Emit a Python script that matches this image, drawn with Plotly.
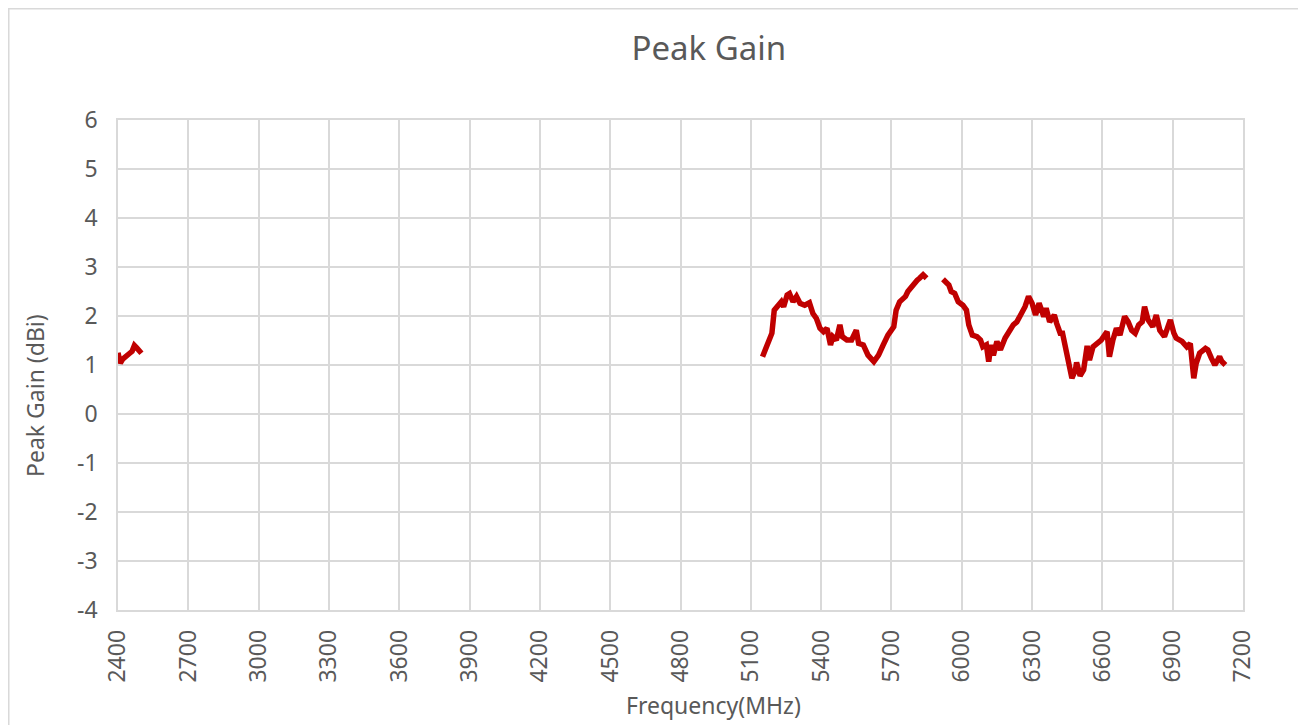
import plotly.graph_objects as go

# ---- data (Frequency in MHz, Peak Gain in dBi) ----
freq_low = [2400, 2405, 2410, 2420, 2430, 2440, 2450, 2460, 2470, 2480, 2490, 2500]
gain_low = [1.25, 1.10, 1.04, 1.12, 1.15, 1.20, 1.24, 1.28, 1.40, 1.35, 1.30, 1.24]

freq_mid = [5150, 5160, 5175, 5190, 5200, 5215, 5230, 5240, 5255, 5265, 5280, 5295,
            5310, 5330, 5350, 5365, 5380, 5395, 5410, 5425, 5440, 5450, 5465, 5480,
            5490, 5510, 5530, 5550, 5560, 5580, 5600, 5625, 5645, 5665, 5685, 5710,
            5720, 5735, 5760, 5770, 5795, 5810, 5820, 5835, 5850]
gain_mid = [1.17, 1.31, 1.51, 1.65, 2.12, 2.22, 2.29, 2.19, 2.43, 2.46, 2.29, 2.40,
            2.26, 2.22, 2.27, 2.05, 1.95, 1.75, 1.68, 1.75, 1.41, 1.58, 1.51, 1.82,
            1.58, 1.51, 1.51, 1.71, 1.44, 1.41, 1.20, 1.07, 1.20, 1.41, 1.61, 1.78,
            2.12, 2.29, 2.40, 2.50, 2.67, 2.73, 2.77, 2.84, 2.77]

freq_high = [5920, 5945, 5955, 5970, 5985, 6005, 6020, 6030, 6045, 6065, 6080, 6090,
             6105, 6115, 6125, 6135, 6150, 6165, 6185, 6205, 6220, 6235, 6255, 6270,
             6285, 6300, 6315, 6330, 6350, 6360, 6375, 6395, 6405, 6420, 6430, 6440,
             6450, 6455, 6470, 6485, 6490, 6505, 6520, 6535, 6545, 6560, 6575, 6595,
             6620, 6630, 6645, 6660, 6675, 6695, 6710, 6725, 6740, 6755, 6770, 6780,
             6795, 6815, 6830, 6845, 6865, 6890, 6905, 6915, 6940, 6960, 6975, 6985,
             6990, 7000, 7015, 7040, 7050, 7065, 7080, 7100, 7110, 7125]
gain_high = [2.75, 2.63, 2.50, 2.46, 2.29, 2.22, 2.12, 1.82, 1.61, 1.58, 1.51, 1.37,
             1.41, 1.07, 1.41, 1.20, 1.48, 1.31, 1.55, 1.71, 1.82, 1.88, 2.05, 2.19,
             2.40, 2.26, 2.02, 2.26, 1.99, 2.16, 1.88, 2.02, 1.85, 1.65, 1.65, 1.44,
             1.17, 1.10, 0.73, 0.90, 1.05, 0.78, 0.90, 1.39, 1.10, 1.37, 1.44, 1.51,
             1.68, 1.17, 1.51, 1.75, 1.61, 1.99, 1.88, 1.71, 1.65, 1.82, 1.88, 2.19,
             1.92, 1.78, 2.02, 1.71, 1.58, 1.92, 1.65, 1.55, 1.48, 1.37, 1.44, 0.90,
             0.73, 1.03, 1.24, 1.34, 1.31, 1.14, 1.00, 1.17, 1.07, 1.00]

x_ticks = list(range(2400, 7201, 300))
y_ticks = list(range(-4, 7, 1))

TITLE = "Peak Gain"
X_TITLE = "Frequency(MHz)"
Y_TITLE = "Peak Gain (dBi)"

LINE_COLOR = "#C00000"
GRID = "#d9d9d9"
TEXT = "#595959"
FONT = "Noto Sans"

fig = go.Figure()
for fx, gy in [(freq_low, gain_low), (freq_mid, gain_mid), (freq_high, gain_high)]:
    fig.add_trace(go.Scatter(x=fx, y=gy, mode="lines",
                             line=dict(color=LINE_COLOR, width=5.5),
                             showlegend=False, hoverinfo="x+y"))

fig.update_layout(
    width=1298, height=717,
    margin=dict(l=110, r=63, t=112, b=115, autoexpand=False),
    paper_bgcolor="white", plot_bgcolor="white",
    font=dict(family=FONT, color=TEXT, size=23),
    title=dict(text=TITLE, x=0.540, xanchor="center", y=0.9442, yanchor="middle",
               font=dict(family=FONT, size=33, color=TEXT)),
    shapes=[dict(type="rect", xref="paper", yref="paper",
                 x0=-0.0971, x1=1.0542, y0=-0.245, y1=1.2270,
                 line=dict(color=GRID, width=1.5), fillcolor="rgba(0,0,0,0)", layer="below")],
    annotations=[
        dict(text=X_TITLE, xref="paper", yref="paper", x=0.5289, y=-0.1939,
             xanchor="center", yanchor="middle", showarrow=False,
             font=dict(family=FONT, size=23, color=TEXT)),
        dict(text=Y_TITLE, xref="paper", yref="paper", x=-0.0738, y=0.4388,
             xanchor="center", yanchor="middle", showarrow=False, textangle=-90,
             font=dict(family=FONT, size=23, color=TEXT)),
    ],
)

fig.update_xaxes(
    range=[2400, 7200], tickvals=x_ticks, ticktext=[str(v) for v in x_ticks],
    tickangle=-90, showgrid=True, gridcolor=GRID, gridwidth=1.5,
    showline=True, linecolor=GRID, linewidth=1.5, mirror=True, zeroline=False,
    ticks="outside", ticklen=9, tickcolor="rgba(0,0,0,0)",
    tickfont=dict(family=FONT, size=23, color=TEXT),
    automargin=False,
)
fig.update_yaxes(
    range=[-4, 6], tickvals=y_ticks, ticktext=[str(v) for v in y_ticks],
    showgrid=True, gridcolor=GRID, gridwidth=1.5,
    showline=True, linecolor=GRID, linewidth=1.5, mirror=True, zeroline=False,
    ticks="outside", ticklen=14, tickcolor="rgba(0,0,0,0)",
    tickfont=dict(family=FONT, size=23, color=TEXT),
    automargin=False,
)

fig.write_html("out.html")
